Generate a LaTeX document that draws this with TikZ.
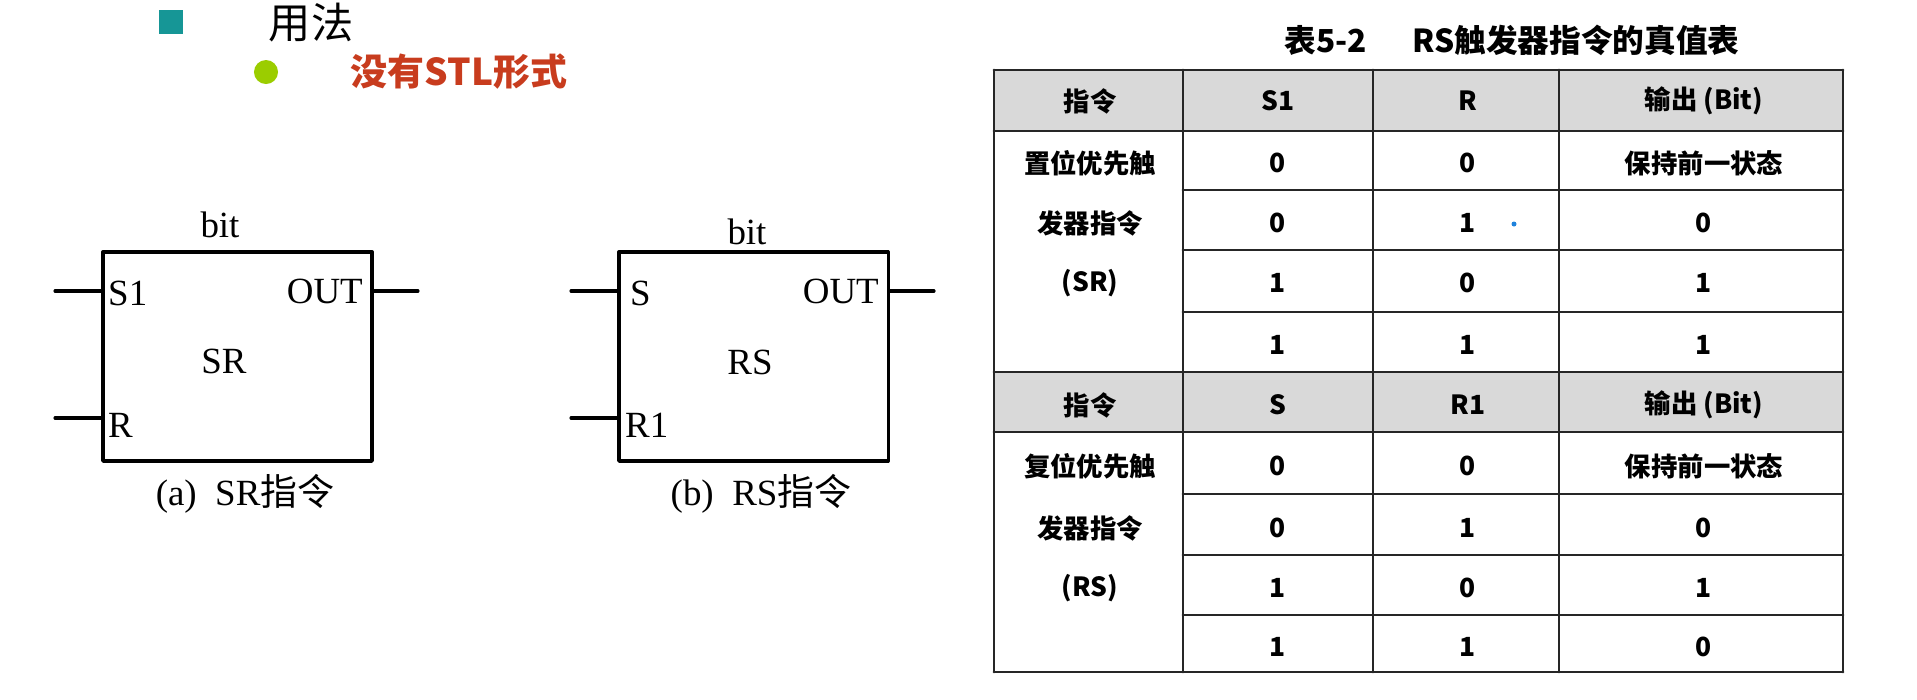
\documentclass[tikz,border=0pt]{standalone}
\usepackage{fontspec}
\setmainfont{Liberation Serif}
\newfontfamily\cjk{Noto Sans CJK SC}
\usetikzlibrary{positioning}
\definecolor{bulletteal}{RGB}{22,150,150}
\definecolor{bulletgreen}{RGB}{155,205,0}
\definecolor{notered}{RGB}{200,60,30}
\definecolor{headgray}{RGB}{217,217,217}
\definecolor{dotblue}{RGB}{30,130,220}
\begin{document}
\begin{tikzpicture}[line cap=round,line join=round,x=.01cm,y=-.01cm,
	blk/.style={draw,line width=.9pt,minimum width=2.69cm,minimum height=2.09cm,inner sep=0pt},
	pin/.style={line width=.9pt},
	lbl/.style={font=\fontsize{10.5}{12}\selectfont,inner sep=1pt},
	cell/.style={font=\cjk\bfseries\fontsize{7.5}{9}\selectfont,inner sep=0pt},
	grid/.style={line width=.8pt,color=black!85}]
	\useasboundingbox (0,0) rectangle (1917,699);
	% heading
	\node[fill=bulletteal,minimum size=.24cm,inner sep=0pt] (sq) at (171,22) {};
	\node[font=\cjk\fontsize{12}{14}\selectfont] (use) at (311,23) {用法};
	\node[circle,fill=bulletgreen,minimum size=.24cm,inner sep=0pt] (dot) at (266,72) {};
	\node[font=\cjk\bfseries\fontsize{10.5}{12}\selectfont,text=notered] (nostl) at (459,72) {没有STL形式};
	% SR box
	\node[blk] (sr) at (237.5,356.5) {};
	\coordinate (sr-s1) at (55,291);
	\coordinate (sr-r) at (55,418);
	\coordinate (sr-out) at (418,291);
	\draw[pin] (sr-s1) -- (sr-s1 -| sr.west);
	\draw[pin] (sr-r) -- (sr-r -| sr.west);
	\draw[pin] (sr-out -| sr.east) -- (sr-out);
	\node[lbl] (sr-bit) at (220,225) {bit};
	\node[lbl,anchor=west] (sr-s1t) at (104,293) {S1};
	\node[lbl,anchor=west] (sr-rt) at (104,425) {R};
	\node[lbl,anchor=east] (sr-outt) at (367,291) {OUT};
	\node[lbl] (sr-name) at (224,361) {SR};
	\node[lbl] (sr-cap) at (245,494) {(a)\ \ SR{\cjk 指令}};
	% RS box
	\node[blk] (rs) at (753.5,356.5) {};
	\coordinate (rs-s) at (571,291);
	\coordinate (rs-r1) at (571,418);
	\coordinate (rs-out) at (934,291);
	\draw[pin] (rs-s) -- (rs-s -| rs.west);
	\draw[pin] (rs-r1) -- (rs-r1 -| rs.west);
	\draw[pin] (rs-out -| rs.east) -- (rs-out);
	\node[lbl] (rs-bit) at (747,232) {bit};
	\node[lbl,anchor=west] (rs-st) at (626,293) {S};
	\node[lbl,anchor=west] (rs-r1t) at (621,425) {R1};
	\node[lbl,anchor=east] (rs-outt) at (883,291) {OUT};
	\node[lbl] (rs-name) at (750,362) {RS};
	\node[lbl] (rs-cap) at (761,494) {(b)\ \ RS{\cjk 指令}};
	% truth table
	\node[font=\cjk\bfseries\fontsize{9}{11}\selectfont] (tcap) at (1512,40) {表5-2\hspace{13pt}RS触发器指令的真值表};
	\fill[headgray] (994,70) rectangle (1843,131);
	\fill[headgray] (994,372) rectangle (1843,432);
	\foreach \x in {994,1183,1373,1559,1843}
		\draw[grid] (\x,70) -- (\x,672);
	\foreach \y in {70,131,372,432,672}
		\draw[grid] (994,\y) -- (1843,\y);
	\foreach \y in {190,250,312,494,555,615}
		\draw[grid] (1183,\y) -- (1843,\y);
	\foreach \y/\a/\b/\c/\d [count=\i] in {101/指令/S1/R/输出 (Bit),
		163/置位优先触/0/0/保持前一状态, 223/发器指令/0/1/0, 283/(SR)/1/0/1, 345/{}/1/1/1,
		405/指令/S/R1/输出 (Bit),
		466/复位优先触/0/0/保持前一状态, 528/发器指令/0/1/0, 588/(RS)/1/0/1, 647/{}/1/1/0}
	{
		\node[cell] (c\i-1) at (1090,\y) {\a};
		\node[cell] (c\i-2) at (1278,\y) {\b};
		\node[cell] (c\i-3) at (1468,\y) {\c};
		\node[cell] (c\i-4) at (1704,\y) {\d};
	}
	\node[circle,fill=dotblue,minimum size=.05cm,inner sep=0pt] (mark) at (1514,224) {};
\end{tikzpicture}
\end{document}
